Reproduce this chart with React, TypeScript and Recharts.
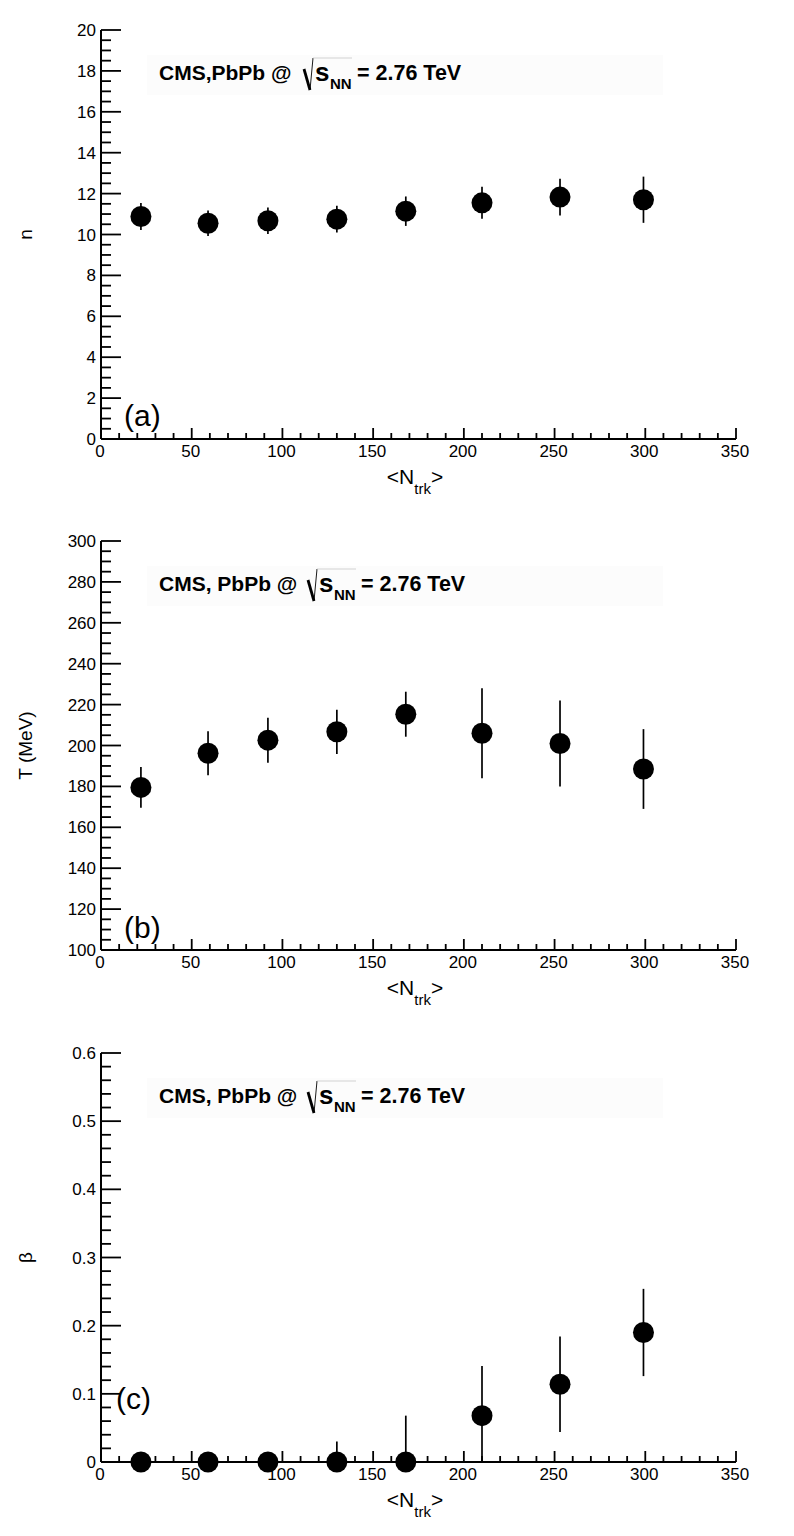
import React from 'react';
import { ScatterChart, Scatter, XAxis, YAxis, ErrorBar } from 'recharts';

// Mean track multiplicity per centrality class
const nTrk = [22, 59, 92, 130, 168, 210, 253, 299];

// (a) power-law exponent n
const nValues = [10.88, 10.55, 10.67, 10.75, 11.14, 11.55, 11.83, 11.7];
const nErrors = [0.66, 0.62, 0.65, 0.65, 0.72, 0.78, 0.9, 1.13];

// (b) temperature T in MeV
const tValues = [179.5, 196.2, 202.6, 206.7, 215.3, 206.0, 201.0, 188.5];
const tErrors = [10.0, 10.8, 11.0, 10.8, 11.0, 22.0, 21.0, 19.5];

// (c) flow velocity beta (errors are [lower, upper])
const betaValues = [0, 0, 0, 0, 0, 0.068, 0.114, 0.19];
const betaErrLow = [0, 0, 0, 0, 0, 0.068, 0.07, 0.064];
const betaErrHigh = [0, 0, 0, 0.03, 0.068, 0.073, 0.07, 0.064];

// Axis tick labels (major) and minor subdivisions
const xMajor = [0, 50, 100, 150, 200, 250, 300, 350];
const nMajor = [0, 2, 4, 6, 8, 10, 12, 14, 16, 18, 20];
const tMajor = [100, 120, 140, 160, 180, 200, 220, 240, 260, 280, 300];
const betaMajor = [0, 0.1, 0.2, 0.3, 0.4, 0.5, 0.6];
const xSub = 5;
const nSub = 4;
const tSub = 4;
const betaSub = 5;

const FONT = '"Liberation Sans", Arial, Helvetica, sans-serif';

const CHART_W = 794;
const CHART_H = 511;
const PLOT_LEFT = 101;
const PLOT_RIGHT = 736;
const PLOT_TOP = 30;
const PLOT_H = 409;
const YAXIS_W = 60;
const XAXIS_H = 40;
const MARGIN = {
  top: PLOT_TOP,
  right: CHART_W - PLOT_RIGHT,
  left: PLOT_LEFT - YAXIS_W,
  bottom: CHART_H - PLOT_TOP - PLOT_H - XAXIS_H,
};

function withMinor(majors: number[], sub: number): number[] {
  const out: number[] = [];
  for (let i = 0; i < majors.length - 1; i++) {
    const a = majors[i];
    const b = majors[i + 1];
    for (let k = 0; k < sub; k++) {
      out.push(Number((a + ((b - a) * k) / sub).toFixed(6)));
    }
  }
  out.push(majors[majors.length - 1]);
  return out;
}

function fmt(v: number): string {
  return String(Number(v.toFixed(4)));
}

type Side = 'left' | 'right' | 'top' | 'bottom';

const TICK_W = 1.8;

function makeTick(side: Side, majors: number[], majorLen: number, minorLen: number, showLabel: boolean) {
  return (props: any) => {
    const { x, y, payload } = props;
    const v = payload.value as number;
    const isMajor = majors.some((m) => Math.abs(m - v) < 1e-9);
    const len = isMajor ? majorLen : minorLen;
    let line: React.ReactNode = null;
    let label: React.ReactNode = null;
    if (side === 'left') {
      line = <line x1={x} y1={y} x2={x + len} y2={y} stroke="#000" strokeWidth={TICK_W} />;
      if (showLabel && isMajor)
        label = (
          <text x={x - 5} y={y + 6} textAnchor="end" fontFamily={FONT} fontSize={17} fill="#000">
            {fmt(v)}
          </text>
        );
    } else if (side === 'right') {
      line = <line x1={x} y1={y} x2={x - len} y2={y} stroke="#000" strokeWidth={TICK_W} />;
    } else if (side === 'top') {
      line = <line x1={x} y1={y} x2={x} y2={y + len} stroke="#000" strokeWidth={TICK_W} />;
    } else {
      line = <line x1={x} y1={y} x2={x} y2={y - len} stroke="#000" strokeWidth={TICK_W} />;
      if (showLabel && isMajor)
        label = (
          <text x={x - 1} y={y + 18} textAnchor="middle" fontFamily={FONT} fontSize={17} fill="#000">
            {fmt(v)}
          </text>
        );
    }
    return (
      <g>
        {line}
        {label}
      </g>
    );
  };
}

const dot = (p: any) => <circle cx={p.cx} cy={p.cy} r={10.5} fill="#000" />;

type PanelProps = {
  rows: { x: number; y: number; err: number | number[] }[];
  yMajor: number[];
  ySub: number;
  yTitle: string;
  tag: string;
  tagX: number;
  tagY: number;
  header: string;
  rootX: number;
  top: number;
};

function Panel(p: PanelProps) {
  const xTicks = withMinor(xMajor, xSub);
  const yTicks = withMinor(p.yMajor, p.ySub);
  const xDomain: [number, number] = [xMajor[0], xMajor[xMajor.length - 1]];
  const yDomain: [number, number] = [p.yMajor[0], p.yMajor[p.yMajor.length - 1]];
  const axisLine = { stroke: '#000', strokeWidth: 2 };
  const base = 80;
  const plotMidY = PLOT_TOP + PLOT_H / 2;
  return (
    <div style={{ position: 'absolute', left: 0, top: p.top, width: CHART_W, height: CHART_H }}>
      <ScatterChart width={CHART_W} height={CHART_H} margin={MARGIN}>
        <XAxis
          xAxisId="b"
          type="number"
          dataKey="x"
          orientation="bottom"
          domain={xDomain}
          ticks={xTicks}
          interval={0}
          height={XAXIS_H}
          tickSize={0}
          tickMargin={0}
          tickLine={false}
          axisLine={axisLine}
          tick={makeTick('bottom', xMajor, 11, 6, true)}
        />
        <XAxis
          xAxisId="t"
          type="number"
          orientation="top"
          domain={xDomain}
          ticks={xTicks}
          interval={0}
          height={0}
          tickSize={0}
          tickMargin={0}
          tickLine={false}
          axisLine={axisLine}
          tick={makeTick('top', xMajor, 11, 5.5, false)}
        />
        <YAxis
          yAxisId="l"
          type="number"
          dataKey="y"
          orientation="left"
          domain={yDomain}
          ticks={yTicks}
          interval={0}
          width={YAXIS_W}
          tickSize={0}
          tickMargin={0}
          tickLine={false}
          axisLine={axisLine}
          tick={makeTick('left', p.yMajor, 20, 10, true)}
        />
        <YAxis
          yAxisId="r"
          type="number"
          orientation="right"
          domain={yDomain}
          ticks={yTicks}
          interval={0}
          width={0}
          tickSize={0}
          tickMargin={0}
          tickLine={false}
          axisLine={axisLine}
          tick={makeTick('right', p.yMajor, 19, 9, false)}
        />
        <Scatter data={p.rows} xAxisId="b" yAxisId="l" shape={dot} isAnimationActive={false}>
          <ErrorBar dataKey="err" direction="y" width={0} stroke="#000" strokeWidth={1.7} isAnimationActive={false} />
        </Scatter>
      </ScatterChart>
      <svg
        width={CHART_W}
        height={CHART_H}
        style={{ position: 'absolute', left: 0, top: 0, pointerEvents: 'none' }}
        fontFamily={FONT}
      >
        <rect x={147} y={55} width={516} height={40} fill="#fcfcfc" />
        <text x={159} y={base} fontSize={21} fontWeight="bold" fill="#000">
          {p.header}
        </text>
        <line x1={p.rootX} y1={base - 11} x2={p.rootX + 6} y2={base + 10} stroke="#000" strokeWidth={2.8} />
        <line x1={p.rootX + 6} y1={base + 10} x2={p.rootX + 9} y2={base - 22} stroke="#000" strokeWidth={0.9} />
        <line x1={p.rootX + 9} y1={base - 22} x2={p.rootX + 48} y2={base - 22} stroke="#c8c8c8" strokeWidth={0.8} />
        <text x={p.rootX + 11} y={base + 1} fontSize={26} fontWeight="bold" fill="#000">
          s
        </text>
        <text x={p.rootX + 26} y={base + 9} fontSize={15} fontWeight="bold" fill="#000">
          NN
        </text>
        <text x={p.rootX + 53} y={base} fontSize={21.5} fontWeight="bold" fill="#000">
          = 2.76 TeV
        </text>
        <text x={p.tagX} y={p.tagY} fontSize={30} fill="#000">
          {p.tag}
        </text>
        <text
          x={32}
          y={plotMidY}
          fontSize={19}
          fill="#000"
          textAnchor="middle"
          transform={`rotate(-90, 32, ${plotMidY})`}
        >
          {p.yTitle}
        </text>
        <text x={415} y={484} fontSize={21} fill="#000" textAnchor="middle">
          {'<N'}
          <tspan fontSize={15} dy={9.5}>
            trk
          </tspan>
          <tspan fontSize={21} dy={-9.5}>
            {'>'}
          </tspan>
        </text>
      </svg>
    </div>
  );
}

export default function App() {
  const rowsN = nTrk.map((x, i) => ({ x, y: nValues[i], err: nErrors[i] }));
  const rowsT = nTrk.map((x, i) => ({ x, y: tValues[i], err: tErrors[i] }));
  const rowsB = nTrk.map((x, i) => ({ x, y: betaValues[i], err: [betaErrLow[i], betaErrHigh[i]] }));
  return (
    <div style={{ position: 'absolute', left: 0, top: 0, width: 794, height: 1536, background: '#fff' }}>
      <Panel
        rows={rowsN}
        yMajor={nMajor}
        ySub={nSub}
        yTitle="n"
        tag="(a)"
        tagX={124}
        tagY={426}
        header="CMS,PbPb @"
        rootX={304}
        top={0}
      />
      <Panel
        rows={rowsT}
        yMajor={tMajor}
        ySub={tSub}
        yTitle="T (MeV)"
        tag="(b)"
        tagX={124}
        tagY={427}
        header="CMS, PbPb @"
        rootX={308}
        top={511}
      />
      <Panel
        rows={rowsB}
        yMajor={betaMajor}
        ySub={betaSub}
        yTitle="β"
        tag="(c)"
        tagX={116}
        tagY={386}
        header="CMS, PbPb @"
        rootX={308}
        top={1023}
      />
    </div>
  );
}
